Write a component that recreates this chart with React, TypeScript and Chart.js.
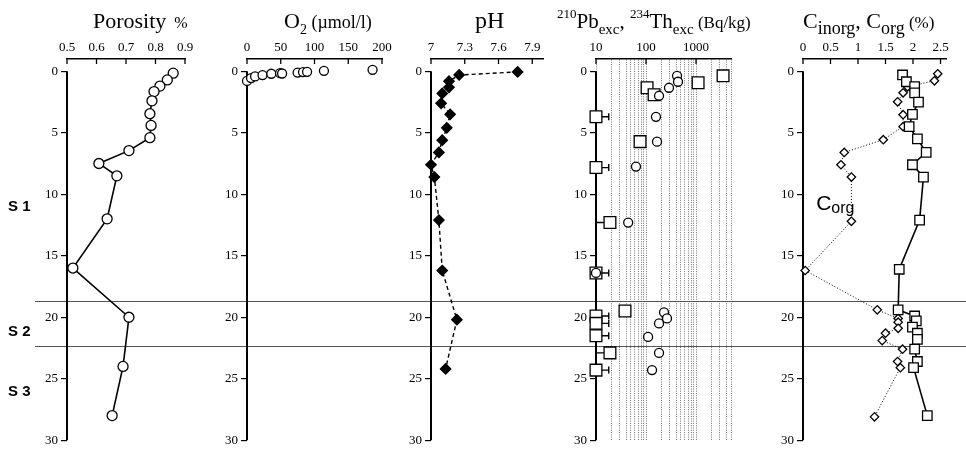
import React, { useEffect, useRef } from 'react';
import { Chart, registerables } from 'chart.js';

Chart.register(...registerables);

// ---------------- data ----------------
const depthTicks = [0, 5, 10, 15, 20, 25, 30];
const unitBoundaryDepths = [18.7, 22.3];
const unitLabels = ['S 1', 'S 2', 'S 3'];
const unitLabelDepths = [11.0, 21.2, 26.1];

const porosityDepth = [0.15, 0.7, 1.2, 1.65, 2.4, 3.45, 4.4, 5.4, 6.45, 7.5, 8.5, 12.0, 16.0, 20.0, 24.0, 28.0];
const porosityValue = [0.86, 0.84, 0.815, 0.795, 0.788, 0.781, 0.785, 0.781, 0.71, 0.608, 0.669, 0.636, 0.52, 0.71, 0.69, 0.653];
const porosityTicks = [0.5, 0.6, 0.7, 0.8, 0.9];

const o2Depth = [0.78, 0.55, 0.42, 0.31, 0.2, 0.15, 0.18, 0.1, 0.06, 0.04, -0.04, -0.12];
const o2Value = [0, 6, 12, 23, 36, 49, 52, 75, 83, 89, 114, 186];
const o2Ticks = [0, 50, 100, 150, 200];

const phDepth = [0.05, 0.3, 0.8, 1.3, 1.8, 2.6, 3.5, 4.6, 5.6, 6.6, 7.6, 8.6, 12.1, 16.2, 20.2, 24.2];
const phValue = [7.77, 7.25, 7.16, 7.16, 7.1, 7.09, 7.17, 7.14, 7.1, 7.07, 7.0, 7.03, 7.07, 7.1, 7.23, 7.13];
const phTicks = [7, 7.3, 7.6, 7.9];

const pbDepth = [0.37, 0.93, 1.34, 1.9, 3.7, 5.72, 7.83, 12.3, 16.4, 19.5, 19.9, 20.5, 21.5, 22.9, 24.3];
const pbValue = [3470, 1100, 105, 145, 10, 76, 10, 19, 10, 38, 10, 10, 10, 19, 10];
const pbErrLow = [null, null, null, null, 10, null, 10, 10, 10, null, 10, 10, 10, 10, 10];
const pbErrHigh = [null, null, null, null, 18, null, 18, 19, 18, null, 18, 18, 18, 19, 18];
const thDepth = [0.37, 0.85, 1.34, 1.99, 3.7, 5.72, 7.75, 12.3, 16.4, 19.6, 20.1, 20.5, 21.6, 22.9, 24.3];
const thValue = [417, 436, 288, 182, 158, 166, 63, 44, 10, 229, 263, 182, 110, 182, 132];
const pbGridValues = [10, 20, 30, 40, 50, 60, 70, 80, 90, 100, 200, 300, 400, 500, 600, 700, 800, 900, 1000, 2000, 3000, 4000, 5000];
const pbTickLabels = [10, 100, 1000];

const cInorgDepth = [0.3, 0.85, 1.25, 1.75, 2.5, 3.5, 4.5, 5.5, 6.6, 7.6, 8.6, 12.1, 16.1, 19.4, 19.9, 20.3, 20.8, 21.3, 21.8, 22.6, 23.6, 24.1, 28.0];
const cInorgValue = [1.81, 1.88, 2.03, 2.03, 2.1, 1.99, 1.93, 2.08, 2.24, 1.99, 2.19, 2.12, 1.75, 1.73, 2.03, 2.06, 1.99, 2.08, 2.08, 2.03, 2.08, 2.01, 2.26];
const cOrgDepth = [0.2, 0.77, 1.26, 1.75, 2.48, 3.53, 4.5, 5.56, 6.6, 7.6, 8.6, 12.2, 16.2, 19.4, 20.1, 20.4, 20.9, 21.3, 21.9, 22.6, 23.6, 24.1, 28.1];
const cOrgValue = [2.45, 2.39, 1.9, 1.82, 1.72, 1.82, 1.82, 1.46, 0.75, 0.69, 0.88, 0.88, 0.04, 1.35, 1.73, 1.73, 1.73, 1.5, 1.44, 1.81, 1.72, 1.77, 1.3];
const cTicks = [0, 0.5, 1, 1.5, 2, 2.5];

// ---------------- layout / style ----------------
const SERIF = '"Liberation Serif", "Times New Roman", serif';
const SANS = '"Liberation Sans", Arial, sans-serif';
const H = 451;
const AREA_TOP = 59;
const AREA_BOTTOM = 441;
const Y_W = 30;
const TITLE_BASE = 28;

type Seg = { t: string; size: number; dy?: number; family?: string; weight?: string };

function drawSegs(ctx: CanvasRenderingContext2D, segs: Seg[], x: number, y: number) {
  let cx = x;
  ctx.textAlign = 'left';
  ctx.textBaseline = 'alphabetic';
  ctx.fillStyle = '#000';
  for (const s of segs) {
    ctx.font = `${s.weight || 'normal'} ${s.size}px ${s.family || SERIF}`;
    ctx.fillText(s.t, cx, y + (s.dy || 0));
    cx += ctx.measureText(s.t).width;
  }
}

const pts = (xs: number[], ys: number[]) => xs.map((v, i) => ({ x: v, y: ys[i] }));

type Panel = {
  key: string;
  left: number;
  width: number;
  areaLeft: number;
  areaRight: number;
  lineStart: number;
  xScale: any;
  xTicks: number[];
  xLabels: number[];
  grid?: any;
  border?: any;
  datasets: any[];
  title: Seg[];
  titleX: number;
  beforeData?: (chart: any, ctx: CanvasRenderingContext2D) => void;
  after?: (chart: any, ctx: CanvasRenderingContext2D) => void;
};

const ptBase = {
  showLine: false,
  clip: false,
  pointBackgroundColor: '#fff',
  pointBorderColor: '#000',
  pointBorderWidth: 1.3,
  borderColor: '#000',
};

const panels: Panel[] = [
  {
    key: 'porosity',
    left: 0,
    width: 215,
    areaLeft: 67,
    areaRight: 185,
    lineStart: 35,
    xScale: { type: 'linear', min: 0.5, max: 0.9 },
    xTicks: porosityTicks,
    xLabels: porosityTicks,
    datasets: [
      {
        ...ptBase,
        data: pts(porosityValue, porosityDepth),
        showLine: true,
        borderWidth: 1.6,
        pointRadius: 5,
        pointStyle: 'circle',
      },
    ],
    title: [
      { t: 'Porosity', size: 22 },
      { t: '  %', size: 16 },
    ],
    titleX: 93,
    after: (chart, ctx) => {
      const y = chart.scales.y;
      ctx.font = `bold 15px ${SANS}`;
      ctx.textAlign = 'left';
      ctx.textBaseline = 'middle';
      ctx.fillStyle = '#000';
      unitLabels.forEach((l, i) => ctx.fillText(l, 8, y.getPixelForValue(unitLabelDepths[i])));
    },
  },
  {
    key: 'o2',
    left: 215,
    width: 185,
    areaLeft: 247,
    areaRight: 382,
    lineStart: 0,
    xScale: { type: 'linear', min: 0, max: 200 },
    xTicks: o2Ticks,
    xLabels: o2Ticks,
    datasets: [
      {
        ...ptBase,
        data: pts(o2Value, o2Depth),
        pointRadius: 4.5,
        pointStyle: 'circle',
      },
    ],
    title: [
      { t: 'O', size: 22 },
      { t: '2', size: 14, dy: 6 },
      { t: ' (\u00b5mol/l)', size: 18 },
    ],
    titleX: 284,
  },
  {
    key: 'ph',
    left: 400,
    width: 150,
    areaLeft: 431,
    areaRight: 545,
    lineStart: 0,
    xScale: { type: 'linear', min: 7, max: 8 },
    xTicks: phTicks,
    xLabels: phTicks,
    datasets: [
      {
        ...ptBase,
        data: pts(phValue, phDepth),
        showLine: true,
        borderDash: [4, 3],
        borderWidth: 1.4,
        pointStyle: 'rectRot',
        pointRadius: 5.2,
        pointBackgroundColor: '#000',
      },
    ],
    title: [{ t: 'pH', size: 24 }],
    titleX: 475,
  },
  {
    key: 'pb',
    left: 550,
    width: 220,
    areaLeft: 596,
    areaRight: 731,
    lineStart: 0,
    xScale: { type: 'logarithmic', min: 10, max: 5000 },
    xTicks: pbGridValues,
    xLabels: pbTickLabels,
    grid: { drawOnChartArea: true, drawTicks: false, color: '#555', lineWidth: 0.8 },
    border: { display: true, color: '#000', width: 1.5, dash: [1, 1.3] },
    datasets: [
      {
        ...ptBase,
        label: '234Th',
        data: pts(thValue, thDepth),
        pointStyle: 'circle',
        pointRadius: 4.5,
      },
      {
        ...ptBase,
        label: '210Pb',
        data: pts(pbValue, pbDepth),
        pointStyle: 'rect',
        pointRadius: 8.3,
      },
    ],
    title: [
      { t: '210', size: 13, dy: -10 },
      { t: 'Pb', size: 21 },
      { t: 'exc', size: 15, dy: 6 },
      { t: ', ', size: 21 },
      { t: '234', size: 13, dy: -10 },
      { t: 'Th', size: 21 },
      { t: 'exc', size: 15, dy: 6 },
      { t: ' (Bq/kg)', size: 17 },
    ],
    titleX: 557,
    beforeData: (chart, ctx) => {
      const { x, y } = chart.scales;
      ctx.save();
      ctx.strokeStyle = '#000';
      ctx.lineWidth = 1.4;
      pbDepth.forEach((d, i) => {
        const lo = pbErrLow[i];
        const hi = pbErrHigh[i];
        if (lo == null || hi == null) return;
        const py = y.getPixelForValue(d);
        const x1 = x.getPixelForValue(lo);
        const x2 = x.getPixelForValue(hi);
        ctx.beginPath();
        ctx.moveTo(x1, py);
        ctx.lineTo(x2, py);
        ctx.moveTo(x1, py - 3.5);
        ctx.lineTo(x1, py + 3.5);
        ctx.moveTo(x2, py - 3.5);
        ctx.lineTo(x2, py + 3.5);
        ctx.stroke();
      });
      ctx.restore();
    },
  },
  {
    key: 'c',
    left: 770,
    width: 196,
    areaLeft: 803,
    areaRight: 946,
    lineStart: 0,
    xScale: { type: 'linear', min: 0, max: 2.6 },
    xTicks: cTicks,
    xLabels: cTicks,
    datasets: [
      {
        ...ptBase,
        label: 'Cinorg',
        data: pts(cInorgValue, cInorgDepth),
        showLine: true,
        borderWidth: 1.6,
        pointStyle: 'rect',
        pointRadius: 6.7,
      },
      {
        ...ptBase,
        label: 'Corg',
        data: pts(cOrgValue, cOrgDepth),
        showLine: true,
        borderWidth: 1,
        borderDash: [1, 2],
        pointStyle: 'rectRot',
        pointRadius: 4.2,
      },
    ],
    title: [
      { t: 'C', size: 22 },
      { t: 'inorg', size: 18, dy: 6 },
      { t: ', ', size: 22 },
      { t: 'C', size: 22 },
      { t: 'org', size: 18, dy: 6 },
      { t: ' (%)', size: 17 },
    ],
    titleX: 803,
    after: (chart, ctx) => {
      const { x, y } = chart.scales;
      drawSegs(
        ctx,
        [
          { t: 'C', size: 21, family: SANS },
          { t: 'org', size: 16, dy: 3, family: SANS },
        ],
        x.getPixelForValue(0.24),
        y.getPixelForValue(11.3)
      );
    },
  },
];

function buildConfig(p: Panel): any {
  const overlay = {
    id: 'overlay_' + p.key,
    beforeDatasetsDraw(chart: any) {
      const ctx = chart.ctx as CanvasRenderingContext2D;
      const { y } = chart.scales;
      const area = chart.chartArea;
      ctx.save();
      // unit boundaries
      ctx.strokeStyle = '#555';
      ctx.lineWidth = 1;
      for (const d of unitBoundaryDepths) {
        const py = Math.round(y.getPixelForValue(d)) + 0.5;
        ctx.beginPath();
        ctx.moveTo(p.lineStart, py);
        ctx.lineTo(chart.width, py);
        ctx.stroke();
      }
      // depth axis line from 0 to 30
      ctx.strokeStyle = '#000';
      ctx.lineWidth = 2;
      ctx.beginPath();
      ctx.moveTo(area.left, y.getPixelForValue(depthTicks[0]));
      ctx.lineTo(area.left, y.getPixelForValue(depthTicks[depthTicks.length - 1]));
      ctx.stroke();
      ctx.restore();
      if (p.beforeData) p.beforeData(chart, ctx);
    },
    afterDraw(chart: any) {
      const ctx = chart.ctx as CanvasRenderingContext2D;
      const { x } = chart.scales;
      const area = chart.chartArea;
      ctx.save();
      ctx.strokeStyle = '#000';
      ctx.lineWidth = 1.3;
      for (const v of p.xLabels) {
        const px = x.getPixelForValue(v);
        ctx.beginPath();
        ctx.moveTo(px, area.top);
        ctx.lineTo(px, area.top + 5);
        ctx.stroke();
      }
      drawSegs(ctx, p.title, p.titleX - p.left, TITLE_BASE);
      if (p.after) p.after(chart, ctx);
      ctx.restore();
    },
  };

  return {
    type: 'scatter',
    data: { datasets: p.datasets },
    options: {
      responsive: false,
      animation: false,
      devicePixelRatio: 1,
      events: [],
      layout: {
        padding: {
          left: p.areaLeft - p.left - Y_W,
          right: p.left + p.width - p.areaRight,
          top: 0,
          bottom: H - AREA_BOTTOM,
        },
      },
      plugins: {
        legend: { display: false },
        tooltip: { enabled: false },
        title: { display: false },
      },
      scales: {
        x: {
          ...p.xScale,
          position: 'top',
          afterFit: (s: any) => {
            s.height = AREA_TOP;
          },
          afterBuildTicks: (s: any) => {
            s.ticks = p.xTicks.map((v) => ({ value: v }));
          },
          ticks: {
            autoSkip: false,
            maxRotation: 0,
            minRotation: 0,
            padding: 4,
            color: '#000',
            font: { family: SERIF, size: 13 },
            callback: (v: number) => (p.xLabels.includes(v) ? String(v) : ''),
          },
          grid: p.grid || { drawOnChartArea: false, drawTicks: false, color: '#000' },
          border: p.border || { display: true, color: '#000', width: 1.5 },
        },
        y: {
          type: 'linear',
          reverse: true,
          min: -1,
          max: 30,
          afterFit: (s: any) => {
            s.width = Y_W;
          },
          afterBuildTicks: (s: any) => {
            s.ticks = depthTicks.map((v) => ({ value: v }));
          },
          ticks: {
            autoSkip: false,
            padding: 3,
            color: '#000',
            font: { family: SERIF, size: 13 },
            callback: (v: number) => String(v),
          },
          grid: { drawOnChartArea: false, drawTicks: true, tickLength: 6, color: '#000', lineWidth: 1.2 },
          border: { display: false },
        },
      },
    },
    plugins: [overlay],
  };
}

function PanelChart({ panel }: { panel: Panel }) {
  const ref = useRef<HTMLCanvasElement>(null);
  useEffect(() => {
    const chart = new Chart(ref.current as HTMLCanvasElement, buildConfig(panel));
    return () => chart.destroy();
  }, [panel]);
  return (
    <canvas
      ref={ref}
      width={panel.width}
      height={H}
      style={{ position: 'absolute', left: panel.left, top: 0, width: panel.width, height: H }}
    />
  );
}

export default function App() {
  return (
    <div style={{ position: 'absolute', left: 0, top: 0, width: 966, height: H, background: '#fff' }}>
      {panels.map((p) => (
        <PanelChart key={p.key} panel={p} />
      ))}
    </div>
  );
}
